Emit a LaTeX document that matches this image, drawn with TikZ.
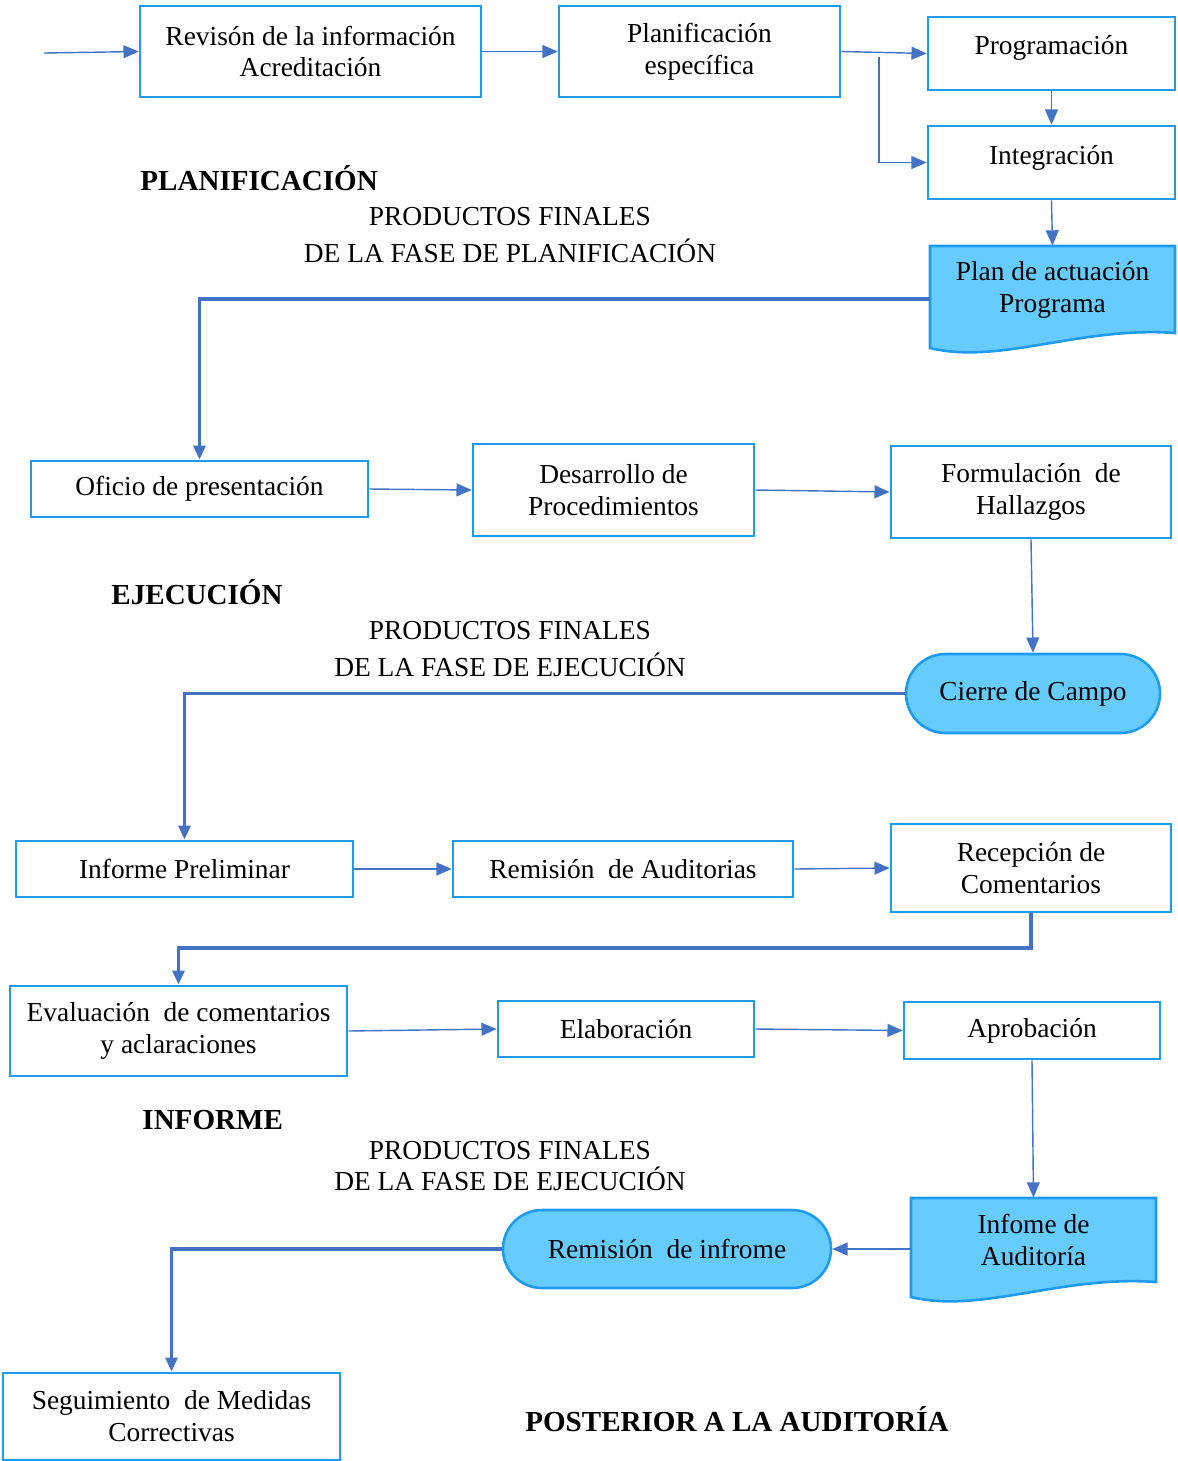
\documentclass[tikz,border=0pt]{standalone}
\usepackage{fontspec}
\setmainfont{Liberation Serif}
\usetikzlibrary{arrows.meta,shapes.misc}
\definecolor{boxblue}{RGB}{30,155,240}
\definecolor{docfill}{RGB}{102,204,255}
\definecolor{lineblue}{RGB}{68,114,196}
\newcommand{\pu}{0.015cm}
\newcommand{\txt}{\fontsize{11.7}{13.6}\selectfont}
\tikzset{
  box/.style={draw=boxblue, line width=1.1pt, inner sep=0pt, align=center, font=\txt},
  pill/.style={box, rounded rectangle, fill=docfill},
  doc/.style={inner sep=0pt, align=center, font=\txt},
  docshape/.style={draw=boxblue, fill=docfill, line width=1.1pt},
  link/.style={lineblue, line width=0.6pt, -{Triangle[length=6.5pt,width=5.5pt]}},
  jump/.style={lineblue, line width=1.6pt, -{Triangle[length=6pt,width=5pt]}},
  phase/.style={inner sep=0pt, font=\fontsize{12.4}{14}\selectfont\bfseries},
  prod/.style={inner sep=0pt, align=center, font=\txt}
}
\begin{document}
\begin{tikzpicture}[x=0.015cm, y=-0.015cm]
    \useasboundingbox (0,0) rectangle (1177,1461);
    \draw[docshape] (930,246) -- (1175,246) -- (1175,333) .. controls (1080,326) and (1000,365) .. (930,348) -- cycle;
    \draw[docshape] (911,1198) -- (1156,1198) -- (1156,1282) .. controls (1061,1275) and (981,1314) .. (911,1297) -- cycle;

    \node[box, minimum width=341*\pu, minimum height=91*\pu] (rev) at (310.5,51.5) {Revisón de la información\\Acreditación};
    \node[box, minimum width=281*\pu, minimum height=91*\pu] (plan) at (699.5,51.5) {Planificación\\específica};
    \node[box, minimum width=247*\pu, minimum height=73*\pu] (prog) at (1051.5,53.5) {\raisebox{0.25cm}{Programación}};
    \node[box, minimum width=247*\pu, minimum height=73*\pu] (integ) at (1051.5,162.5) {\raisebox{0.24cm}{Integración}};
    \node[doc, minimum width=245*\pu, minimum height=87*\pu] (planact) at (1052.5,289.5) {Plan de actuación\\Programa};
    \coordinate (start) at (44,53);
    \coordinate (br) at (879,57);

    \node[phase, anchor=west] (tplan) at (140,178) {PLANIFICACIÓN};
    \node[prod] (pplan) at (510,235) {PRODUCTOS FINALES\\[2.5pt]DE LA FASE DE PLANIFICACIÓN};

    \node[box, minimum width=337*\pu, minimum height=56*\pu] (oficio) at (199.5,489) {Oficio de presentación};
    \node[box, minimum width=281*\pu, minimum height=92*\pu] (desarr) at (613.5,490) {Desarrollo de\\Procedimientos};
    \node[box, minimum width=280*\pu, minimum height=92*\pu] (formul) at (1031,492) {Formulación \ de\\Hallazgos};
    \node[pill, minimum width=254*\pu, minimum height=79*\pu] (cierre) at (1033,693.5) {Cierre de Campo};

    \node[phase, anchor=west] (tejec) at (111,592) {EJECUCIÓN};
    \node[prod] (pejec) at (510,649) {PRODUCTOS FINALES\\[2.5pt]DE LA FASE DE EJECUCIÓN};

    \node[box, minimum width=337*\pu, minimum height=56*\pu] (inform) at (184.5,869) {Informe Preliminar};
    \node[box, minimum width=340*\pu, minimum height=56*\pu] (remis) at (623,869) {Remisión \ de Auditorias};
    \node[box, minimum width=280*\pu, minimum height=88*\pu] (recep) at (1031,868) {Recepción de\\Comentarios};
    \node[box, minimum width=337*\pu, minimum height=90*\pu] (evalu) at (178.5,1031) {Evaluación \ de comentarios\\y aclaraciones};
    \node[box, minimum width=256*\pu, minimum height=56*\pu] (elab) at (626,1029) {Elaboración};
    \node[box, minimum width=256*\pu, minimum height=57*\pu] (aprob) at (1032,1030.5) {Aprobación};
    \node[doc, minimum width=245*\pu, minimum height=84*\pu] (infome) at (1033.5,1240) {Infome de\\Auditoría};
    \node[pill, minimum width=328*\pu, minimum height=78*\pu] (remisinf) at (667,1249) {Remisión \ de infrome};
    \node[box, minimum width=337*\pu, minimum height=87*\pu] (seguim) at (171.5,1416.5) {Seguimiento \ de Medidas\\Correctivas};

    \node[phase, anchor=west] (tinf) at (142,1120) {INFORME};
    \node[prod] (pinf) at (510,1166) {PRODUCTOS FINALES\\DE LA FASE DE EJECUCIÓN};
    \node[phase] (tpost) at (737,1419) {POSTERIOR A LA AUDITORÍA};

    \draw[link] (start) -- (rev.west);
    \draw[link] (rev.east) -- (plan.west);
    \draw[link] (plan.east) -- (prog.west);
    \draw[link] (br) |- (integ.west);
    \draw[link] (prog.south) -- (integ.north);
    \draw[link] (integ.south) -- (planact.north);
    \draw[jump] ([yshift=-0.14cm]planact.west) -| (oficio.north);

    \draw[link] (oficio.east) -- (desarr.west);
    \draw[link] (desarr.east) -- (formul.west);
    \draw[link] (formul.south) -- (cierre.north);
    \draw[jump] (cierre.west) -| (inform.north);

    \draw[link] (inform.east) -- (remis.west);
    \draw[link] (remis.east) -- (recep.west);
    \draw[jump] (recep.south) -- ++(0,35) -| (evalu.north);
    \draw[link] (evalu.east) -- (elab.west);
    \draw[link] (elab.east) -- (aprob.west);
    \draw[link] (aprob.south) -- (infome.north);
    \draw[link] (remisinf.east -| infome.west) -- (remisinf.east);
    \draw[jump] (remisinf.west) -| (seguim.north);
\end{tikzpicture}
\end{document}
